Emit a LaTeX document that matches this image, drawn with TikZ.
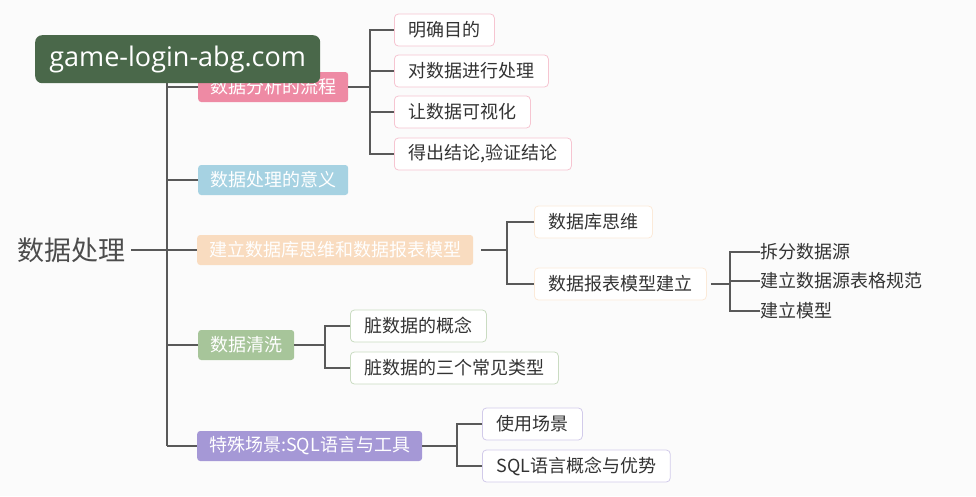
\documentclass[tikz,border=0pt]{standalone}
\usepackage{fontspec}
\setmainfont{Noto Sans CJK SC}
\setsansfont{Open Sans}
\begin{document}
\begin{tikzpicture}[x=1pt,y=-1pt,
  ln/.style={draw=black!65,line width=1.3pt},
  lone/.style={rounded corners=3pt,text=white,font=\fontsize{18}{20}\selectfont,minimum height=30pt,inner xsep=12pt,anchor=west},
  leaf/.style={rounded corners=4pt,draw,line width=0.8pt,fill=white,text=black!80,font=\fontsize{18}{20}\selectfont,minimum height=32pt,inner xsep=14pt,anchor=west},
  plain/.style={text=black!80,font=\fontsize{18}{20}\selectfont,anchor=west,inner sep=0pt}]
\useasboundingbox[fill=white!97!gray] (0,0) rectangle (976,496);
\definecolor{cpink}{HTML}{EE8AA4}\definecolor{cblue}{HTML}{A6D2E2}
\definecolor{corange}{HTML}{F9DCC0}\definecolor{cgreen}{HTML}{A7C59A}
\definecolor{cpurple}{HTML}{A598D6}
\node[anchor=west,inner sep=0pt,text=black!70,font=\fontsize{27}{29}\selectfont] (root) at (17,250) {数据处理};
\coordinate (sp) at (167,250);
\coordinate (sptop) at (167,83);
\coordinate (spbot) at (167,446);
\draw[ln] (root.east)++(6,0) -- (sp);
\draw[ln] (sptop) -- (spbot);
\node[lone,fill=cpink] (a) at (198,87) {数据分析的流程};
\node[lone,fill=cblue] (b) at (198,180) {数据处理的意义};
\node[lone,fill=corange] (c) at (197,250) {建立数据库思维和数据报表模型};
\node[lone,fill=cgreen] (d) at (198,345) {数据清洗};
\node[lone,fill=cpurple] (e) at (197,446) {特殊场景:SQL语言与工具};
\foreach \n in {a,b,c,d,e} \draw[ln] (\n.west -| sp) -- (\n.west);
% pink children
\node[leaf,draw=cpink!50] (a1) at (394,30) {明确目的};
\node[leaf,draw=cpink!50] (a2) at (394,71) {对数据进行处理};
\node[leaf,draw=cpink!50] (a3) at (394,112) {让数据可视化};
\node[leaf,draw=cpink!50] (a4) at (394,154) {得出结论,验证结论};
\draw[ln] (a.east) -- (370,87);
\draw[ln] (a1.west) -| (370,154) -- (a4.west);
\draw[ln] (a2.west) -- (370,71); \draw[ln] (a3.west) -- (370,112);
% orange children
\node[leaf,draw=corange!60] (c1) at (534,222) {数据库思维};
\node[leaf,draw=corange!60] (c2) at (534,284) {数据报表模型建立};
\draw[ln] (c.east)++(8,0) -- (507,250);
\draw[ln] (c1.west) -| (507,284) -- (c2.west);
\node[plain] (f1) at (760,252) {拆分数据源};
\node[plain] (f2) at (760,281) {建立数据源表格规范};
\node[plain] (f3) at (760,311) {建立模型};
\draw[ln] (c2.east)++(4,0) -- (730,284);
\draw[ln] (f1.west) -| (730,311) -- (f3.west);
\draw[ln] (f2.west) -- (730,281);
% green children
\node[leaf,draw=cgreen!60] (d1) at (350,326) {脏数据的概念};
\node[leaf,draw=cgreen!60] (d2) at (350,368) {脏数据的三个常见类型};
\draw[ln] (d.east) -- (325,345);
\draw[ln] (d1.west) -| (325,368) -- (d2.west);
% purple children
\node[leaf,draw=cpurple!50] (e1) at (482,424) {使用场景};
\node[leaf,draw=cpurple!50] (e2) at (482,466) {SQL语言概念与优势};
\draw[ln] (e.east) -- (457,446);
\draw[ln] (e1.west) -| (457,466) -- (e2.west);
% watermark
\node[anchor=north west,fill={rgb,255:red,74;green,104;blue,74},rounded corners=7pt,minimum width=285pt,minimum height=48pt,text=white,font=\sffamily\fontsize{27}{30}\selectfont] (wm) at (35,35) {game-login-abg.com};
\end{tikzpicture}
\end{document}
